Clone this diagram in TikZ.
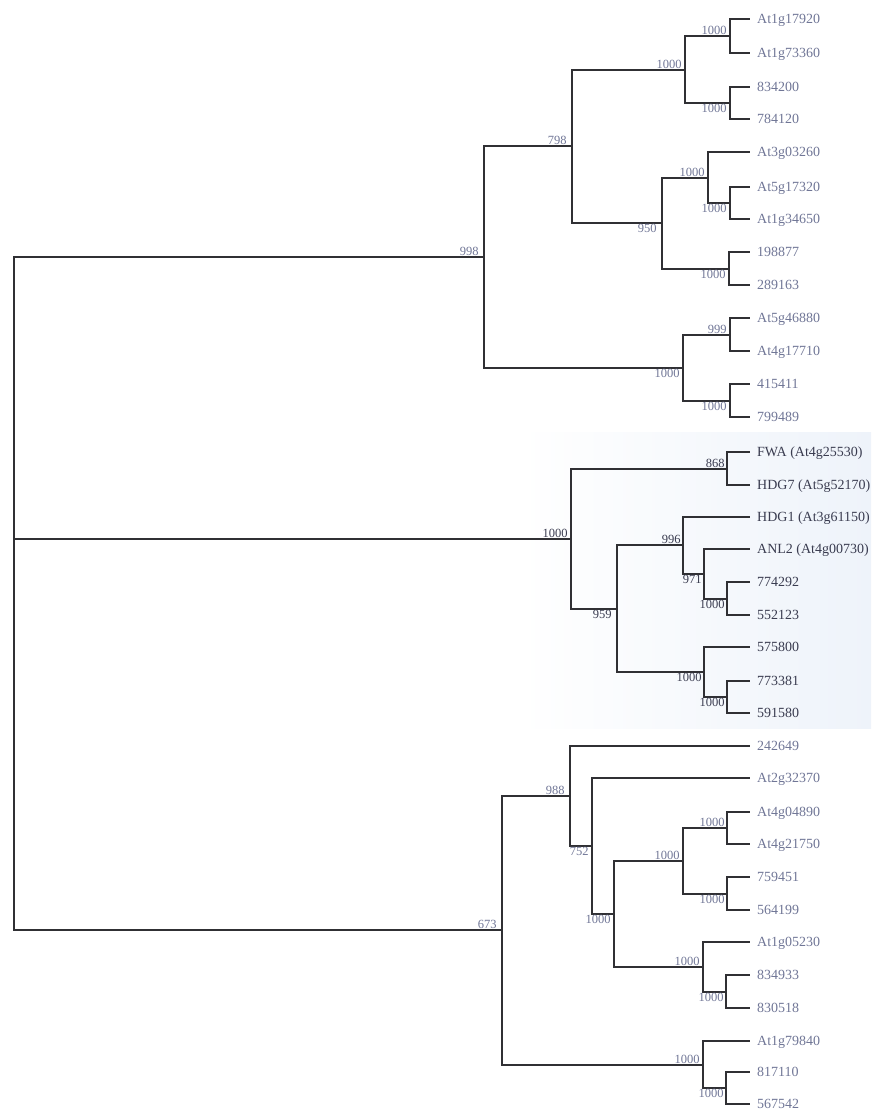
\documentclass[tikz,border=0pt]{standalone}
\usepackage{fontspec}
\setmainfont{Liberation Serif}
\definecolor{branch}{RGB}{48,48,52}
\definecolor{lighttxt}{RGB}{112,118,150}
\definecolor{darktxt}{RGB}{58,60,80}
\definecolor{tint}{RGB}{238,243,250}
\tikzset{
  tree/.style={draw=branch, line width=2pt, line cap=rect},
  leaf/.style={anchor=west, inner xsep=8pt, inner ysep=0pt, text height=10pt, text depth=0.8pt,
               font=\fontsize{14}{14}\selectfont},
  leafA/.style={leaf, text=lighttxt},
  leafB/.style={leaf, text=darktxt},
  bs/.style={inner sep=1.2pt, font=\fontsize{12.5}{12.5}\selectfont},
  bsA/.style={bs, text=lighttxt},
  bsB/.style={bs, text=darktxt},
  up/.style={anchor=south east},
  dn/.style={anchor=north east},
}
\begin{document}
\begin{tikzpicture}[x=1pt, y=-1pt]
\useasboundingbox (0,0) rectangle (871,1112);
% faint tint of the page behind the middle clade
\shade[left color=white, right color=tint] (520,432) rectangle (871,728);

% ---- inner nodes ----
\coordinate (R) at (14,593);
% upper clade
\coordinate (A) at (484,257);
\coordinate (A1) at (572,146);
\coordinate (A11) at (685,70);
\coordinate (A111) at (730,36);
\coordinate (A112) at (730,103);
\coordinate (A12) at (662,223);
\coordinate (A121) at (708,178);
\coordinate (A1211) at (730,203);
\coordinate (A122) at (729,269);
\coordinate (A2) at (683,368);
\coordinate (A21) at (730,335);
\coordinate (A22) at (730,401);
% middle clade
\coordinate (M) at (571,539);
\coordinate (M1) at (727,469);
\coordinate (M2) at (617,609);
\coordinate (M21) at (683,545);
\coordinate (M211) at (704,574);
\coordinate (M2111) at (727,599);
\coordinate (M22) at (704,672);
\coordinate (M221) at (727,697);
% lower clade
\coordinate (B) at (502,930);
\coordinate (B1) at (570,796);
\coordinate (B11) at (592,846);
\coordinate (B111) at (614,914);
\coordinate (B1111) at (683,861);
\coordinate (B11111) at (727,828);
\coordinate (B11112) at (727,894);
\coordinate (B1112) at (703,967);
\coordinate (B11121) at (726,992);
\coordinate (B2) at (703,1065);
\coordinate (B21) at (726,1088);

% ---- leaves ----
\node[leafA] (l1)  at (749,19)   {At1g17920};
\node[leafA] (l2)  at (749,53)   {At1g73360};
\node[leafA] (l3)  at (749,87)   {834200};
\node[leafA] (l4)  at (749,119)  {784120};
\node[leafA] (l5)  at (749,152)  {At3g03260};
\node[leafA] (l6)  at (749,187)  {At5g17320};
\node[leafA] (l7)  at (749,219)  {At1g34650};
\node[leafA] (l8)  at (749,252)  {198877};
\node[leafA] (l9)  at (749,285)  {289163};
\node[leafA] (l10) at (749,318)  {At5g46880};
\node[leafA] (l11) at (749,351)  {At4g17710};
\node[leafA] (l12) at (749,384)  {415411};
\node[leafA] (l13) at (749,417)  {799489};
\node[leafB] (l14) at (749,452)  {FWA (At4g25530)};
\node[leafB] (l15) at (749,485)  {HDG7 (At5g52170)};
\node[leafB] (l16) at (749,517)  {HDG1 (At3g61150)};
\node[leafB] (l17) at (749,549)  {ANL2 (At4g00730)};
\node[leafB] (l18) at (749,582)  {774292};
\node[leafB] (l19) at (749,615)  {552123};
\node[leafB] (l20) at (749,647)  {575800};
\node[leafB] (l21) at (749,681)  {773381};
\node[leafB] (l22) at (749,713)  {591580};
\node[leafA] (l23) at (749,746)  {242649};
\node[leafA] (l24) at (749,778)  {At2g32370};
\node[leafA] (l25) at (749,812)  {At4g04890};
\node[leafA] (l26) at (749,844)  {At4g21750};
\node[leafA] (l27) at (749,877)  {759451};
\node[leafA] (l28) at (749,910)  {564199};
\node[leafA] (l29) at (749,942)  {At1g05230};
\node[leafA] (l30) at (749,975)  {834933};
\node[leafA] (l31) at (749,1008) {830518};
\node[leafA] (l32) at (749,1041) {At1g79840};
\node[leafA] (l33) at (749,1072) {817110};
\node[leafA] (l34) at (749,1104) {567542};

% ---- branches ----
\draw[tree] (R) |- (A);  \draw[tree] (R) |- (M);  \draw[tree] (R) |- (B);
\draw[tree] (A) |- (A1); \draw[tree] (A) |- (A2);
\draw[tree] (A1) |- (A11); \draw[tree] (A1) |- (A12);
\draw[tree] (A11) |- (A111); \draw[tree] (A11) |- (A112);
\draw[tree] (A111) |- (l1.west); \draw[tree] (A111) |- (l2.west);
\draw[tree] (A112) |- (l3.west); \draw[tree] (A112) |- (l4.west);
\draw[tree] (A12) |- (A121); \draw[tree] (A12) |- (A122);
\draw[tree] (A121) |- (l5.west); \draw[tree] (A121) |- (A1211);
\draw[tree] (A1211) |- (l6.west); \draw[tree] (A1211) |- (l7.west);
\draw[tree] (A122) |- (l8.west); \draw[tree] (A122) |- (l9.west);
\draw[tree] (A2) |- (A21); \draw[tree] (A2) |- (A22);
\draw[tree] (A21) |- (l10.west); \draw[tree] (A21) |- (l11.west);
\draw[tree] (A22) |- (l12.west); \draw[tree] (A22) |- (l13.west);

\draw[tree] (M) |- (M1); \draw[tree] (M) |- (M2);
\draw[tree] (M1) |- (l14.west); \draw[tree] (M1) |- (l15.west);
\draw[tree] (M2) |- (M21); \draw[tree] (M2) |- (M22);
\draw[tree] (M21) |- (l16.west); \draw[tree] (M21) |- (M211);
\draw[tree] (M211) |- (l17.west); \draw[tree] (M211) |- (M2111);
\draw[tree] (M2111) |- (l18.west); \draw[tree] (M2111) |- (l19.west);
\draw[tree] (M22) |- (l20.west); \draw[tree] (M22) |- (M221);
\draw[tree] (M221) |- (l21.west); \draw[tree] (M221) |- (l22.west);

\draw[tree] (B) |- (B1); \draw[tree] (B) |- (B2);
\draw[tree] (B1) |- (l23.west); \draw[tree] (B1) |- (B11);
\draw[tree] (B11) |- (l24.west); \draw[tree] (B11) |- (B111);
\draw[tree] (B111) |- (B1111); \draw[tree] (B111) |- (B1112);
\draw[tree] (B1111) |- (B11111); \draw[tree] (B1111) |- (B11112);
\draw[tree] (B11111) |- (l25.west); \draw[tree] (B11111) |- (l26.west);
\draw[tree] (B11112) |- (l27.west); \draw[tree] (B11112) |- (l28.west);
\draw[tree] (B1112) |- (l29.west); \draw[tree] (B1112) |- (B11121);
\draw[tree] (B11121) |- (l30.west); \draw[tree] (B11121) |- (l31.west);
\draw[tree] (B2) |- (l32.west); \draw[tree] (B2) |- (B21);
\draw[tree] (B21) |- (l33.west); \draw[tree] (B21) |- (l34.west);

% ---- bootstrap values ----
\node[bsA, up] (sA)     at ([xshift=-4pt]A)      {998};
\node[bsA, up] (sA1)    at ([xshift=-4pt]A1)     {798};
\node[bsA, up] (sA11)   at ([xshift=-2pt]A11)    {1000};
\node[bsA, up] (sA111)  at ([xshift=-2pt]A111)   {1000};
\node[bsA, dn] (sA112)  at ([xshift=-2pt]A112)   {1000};
\node[bsA, dn] (sA12)   at ([xshift=-4pt]A12)    {950};
\node[bsA, up] (sA121)  at ([xshift=-2pt]A121)   {1000};
\node[bsA, dn] (sA1211) at ([xshift=-2pt]A1211)  {1000};
\node[bsA, dn] (sA122)  at ([xshift=-2pt]A122)   {1000};
\node[bsA, dn] (sA2)    at ([xshift=-2pt]A2)     {1000};
\node[bsA, up] (sA21)   at ([xshift=-2pt]A21)    {999};
\node[bsA, dn] (sA22)   at ([xshift=-2pt]A22)    {1000};

\node[bsB, up] (sM)     at ([xshift=-2pt]M)      {1000};
\node[bsB, up] (sM1)    at ([xshift=-1pt]M1)     {868};
\node[bsB, dn] (sM2)    at ([xshift=-4pt]M2)     {959};
\node[bsB, up] (sM21)   at ([xshift=-1pt]M21)    {996};
\node[bsB, dn] (sM211)  at ([xshift=-1pt]M211)   {971};
\node[bsB, dn] (sM2111) at ([xshift=-1pt]M2111)  {1000};
\node[bsB, dn] (sM22)   at ([xshift=-1pt]M22)    {1000};
\node[bsB, dn] (sM221)  at ([xshift=-1pt]M221)   {1000};

\node[bsA, up] (sB)     at ([xshift=-4pt]B)      {673};
\node[bsA, up] (sB1)    at ([xshift=-4pt]B1)     {988};
\node[bsA, dn] (sB11)   at ([xshift=-2pt]B11)    {752};
\node[bsA, dn] (sB111)  at ([xshift=-2pt]B111)   {1000};
\node[bsA, up] (sB1111) at ([xshift=-2pt]B1111)  {1000};
\node[bsA, up] (sB11111) at ([xshift=-1pt]B11111) {1000};
\node[bsA, dn] (sB11112) at ([xshift=-1pt]B11112) {1000};
\node[bsA, up] (sB1112) at ([xshift=-2pt]B1112)  {1000};
\node[bsA, dn] (sB11121) at ([xshift=-1pt]B11121) {1000};
\node[bsA, up] (sB2)    at ([xshift=-2pt]B2)     {1000};
\node[bsA, dn] (sB21)   at ([xshift=-1pt]B21)    {1000};
\end{tikzpicture}
\end{document}
